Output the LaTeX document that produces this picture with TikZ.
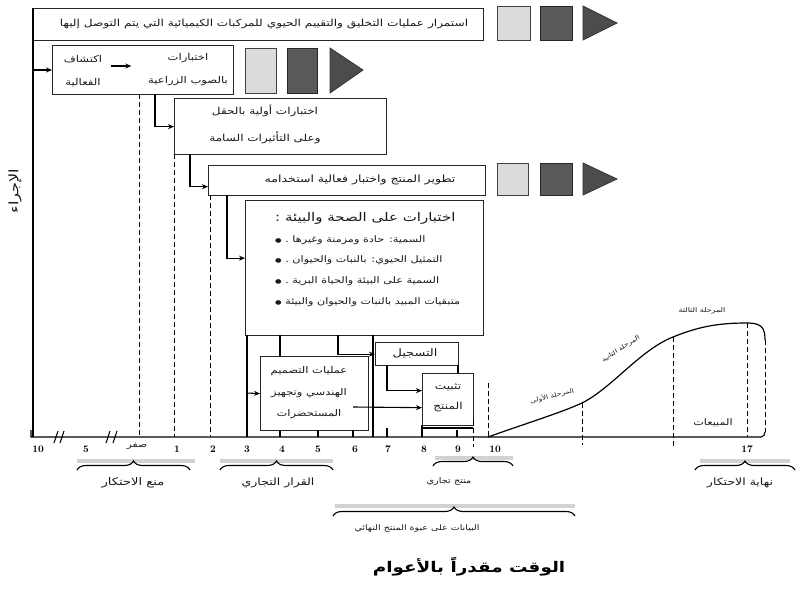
\documentclass[tikz,border=0pt]{standalone}
\usepackage{fontspec}
\usetikzlibrary{decorations.pathreplacing,arrows.meta}
\newfontfamily\arabicfont[Script=Arabic, FakeStretch=1.25]{DejaVu Sans}
\TeXXeTstate=1
\newcommand{\artx}[1]{\beginR #1\endR}
\newcommand{\fs}[2]{\fontsize{#1}{#2}\selectfont}
\newcommand{\bul}{{\fontsize{6}{6}\selectfont ●}\ }
\begin{document}
\begin{tikzpicture}[x=1pt,y=-1pt,
  box/.style={draw=black!85, line width=1.3pt, anchor=north west, inner sep=0pt},
  lt/.style={draw=black!75, line width=1pt, fill=gray!28, anchor=north west, inner sep=0pt},
  dk/.style={draw=black!85, line width=1pt, fill=black!65, anchor=north west, inner sep=0pt},
  tri/.style={fill=black!70, draw=black!80, line width=0.8pt},
  arr/.style={line width=1.1pt, -{Stealth[length=6pt,width=5pt]}},
  ln/.style={line width=1.1pt},
  dsh/.style={line width=1pt, dash pattern=on 5pt off 3pt},
  txt/.style={font=\arabicfont\fs{9.7}{12}, text=black!90, inner sep=0pt},
  lbl/.style={font=\arabicfont\fs{10}{12}, text=black!90, inner sep=0pt},
  sml/.style={font=\arabicfont\fs{6}{8}, text=black!90, inner sep=0pt},
  num/.style={font=\bfseries\fs{10}{12}, inner sep=0pt},
  brc/.style={decorate, decoration={brace, amplitude=9pt}, line width=1.1pt},
  band/.style={line width=4pt, gray!35},
]
\useasboundingbox[fill=white] (0,0) rectangle (796,590);

% ---------- boxes ----------
\node[box, minimum width=450pt, minimum height=32pt] (b1) at (33,8) {};
\node[box, minimum width=181pt, minimum height=49pt] (b2) at (52,45) {};
\node[box, minimum width=212pt, minimum height=56pt] (b3) at (174,98) {};
\node[box, minimum width=277pt, minimum height=30pt] (b4) at (208,165) {};
\node[box, minimum width=238pt, minimum height=135pt] (b5) at (245,200) {};
\node[box, minimum width=108pt, minimum height=74pt] (b6) at (260,356) {};
\node[box, minimum width=83pt, minimum height=23pt] (b7) at (375,342) {};
\node[box, minimum width=51pt, minimum height=52pt] (b8) at (422,373) {};

% ---------- squares and triangles ----------
\node[lt, minimum width=33pt, minimum height=34pt] (l1) at (497,6) {};
\node[dk, minimum width=32pt, minimum height=34pt] (d1) at (540,6) {};
\fill[tri] (583,6) -- (617,23) -- (583,40) -- cycle;
\node[lt, minimum width=31pt, minimum height=45pt] (l2) at (245,48) {};
\node[dk, minimum width=30pt, minimum height=45pt] (d2) at (287,48) {};
\fill[tri] (330,48) -- (363,70) -- (330,93) -- cycle;
\node[lt, minimum width=31pt, minimum height=32pt] (l4) at (497,163) {};
\node[dk, minimum width=32pt, minimum height=32pt] (d4) at (540,163) {};
\fill[tri] (583,163) -- (617,179) -- (583,195) -- cycle;

% ---------- box texts ----------
\node[txt] (t1) at (264,24) {\artx{استمرار عمليات التخليق والتقييم الحيوي للمركبات الكيميائية التي يتم التوصل إليها}};
\node[txt, align=center, font=\arabicfont\fs{9.3}{23}] (t2a) at (83,71) {\artx{اكتشاف}\\\artx{الفعالية}};
\node[txt, align=center, font=\arabicfont\fs{9.3}{23}] (t2b) at (188,70) {\artx{اختبارات}\\\artx{بالصوب الزراعية}};
\draw[arr] (t2a.east |- 0,66) ++(9,0) coordinate (k1) -- ++(20,0) coordinate (k2);
\node[txt, align=center, font=\arabicfont\fs{9.6}{27}] (t3) at (265,124) {\artx{اختبارات أولية بالحقل}\\\artx{وعلى التأثيرات السامة}};
\node[txt, font=\arabicfont\fs{10}{12}] (t4) at (360,180) {\artx{تطوير المنتج واختبار فعالية استخدامه}};
\node[txt, align=left, anchor=north west, font=\arabicfont\fs{9}{20.7}] (t5) at (275,212) {%
{\fs{12}{20.7}\artx{اختبارات على الصحة والبيئة :}}\\
\bul\artx{السمية: حادة ومزمنة وغيرها .}\\
\bul\artx{التمثيل الحيوي: بالنبات والحيوان .}\\
\bul\artx{السمية على البيئة والحياة البرية .}\\
\bul\artx{متبقيات المبيد بالنبات والحيوان والبيئة}};
\node[txt, align=center, font=\arabicfont\fs{9.2}{21.5}] (t6) at (309,393) {\artx{عمليات التصميم}\\\artx{الهندسي وتجهيز}\\\artx{المستحضرات}};
\node[txt, font=\arabicfont\fs{10.3}{12}] (t7) at (415,353) {\artx{التسجيل}};
\node[txt, align=center, font=\arabicfont\fs{9.7}{20}] (t8) at (448,398) {\artx{تثبيت}\\\artx{المنتج}};

% ---------- axes ----------
\draw[ln] (33,8) -- (33,437);
\draw[ln] (31,430) -- (31,437) -- (761,437) to[out=0,in=-90] (765,432);
\draw[ln] (54,443) -- (58,431);
\draw[ln] (60,443) -- (64,431);
\draw[ln] (106,443) -- (110,431);
\draw[ln] (113,443) -- (117,431);
\node[txt, rotate=90, font=\arabicfont\fs{13}{15}] (ylab) at (15,191) {\artx{الإجراء}};

% ---------- connectors ----------
\coordinate (a1) at (33,70);
\draw[arr] (a1) -- (a1 -| b2.west);
\coordinate (s2) at (155,94);
\draw[arr] (s2) |- (b3.west);
\coordinate (s3) at (190,154);
\draw[arr] (s3) |- ([yshift=-6pt]b4.west);
\coordinate (s4) at (227,195);
\draw[arr] (s4) |- ([yshift=10pt]b5.west);
\coordinate (s5) at (247,335);
\draw[ln] (s5) -- (247,437);
\coordinate (s5a) at (247,393);
\draw[arr] (s5a) -- (b6.west);
\coordinate (s6) at (338,335);
\draw[arr] (s6) |- (b7.west);
\coordinate (s7) at (387,365);
\draw[arr] (s7) |- ([yshift=9pt]b8.west);
\coordinate (s8) at (353,407);
\draw[arr] (s8) -- ([yshift=-8pt]b8.west);
\draw[ln] (280,335) -- (b6.north -| 280,0);
\draw[ln] (373,335) -- (373,437);
\draw[ln] (458,365) -- (458,373);
\draw[ln] (422,425) -- (422,437);
\draw[ln] (422,428) -- (473,428);
\foreach \xx in {280,318,353} \draw[ln] (\xx,430) -- (\xx,437);
\draw[ln] (387,428) -- (387,437);
\draw[ln] (457,430) -- (457,437);

% ---------- dashed year lines ----------
\draw[dsh] (139,94) -- (139,437);
\draw[dsh] (174,154) -- (174,437);
\draw[dsh] (210,195) -- (210,437);
\draw[dsh] (473,420) -- (473,447);
\draw[dsh] (488,383) -- (488,437);
\draw[dsh] (582,403) -- (582,445);
\draw[dsh] (673,337) -- (673,447);
\draw[dsh] (747,323) -- (747,437);
\draw[dsh] (765,340) -- (765,432);

% ---------- life cycle curve ----------
\draw[line width=1.2pt] (488,437) .. controls (530,422) and (560,413) .. (582,403)
  .. controls (612,388) and (640,350) .. (673,337)
  .. controls (700,326) and (720,323) .. (747,323)
  .. controls (762,323) and (765,328) .. (765,340);
\node[sml, rotate=14] (p1) at (552,396) {\artx{المرحلة الأولى}};
\node[sml, rotate=33] (p2) at (621,349) {\artx{المرحلة الثانية}};
\node[sml, font=\arabicfont\fs{6.4}{8}] (p3) at (702,311) {\artx{المرحلة الثالثة}};
\node[sml, font=\arabicfont\fs{9}{11}] (p4) at (713,423) {\artx{المبيعات}};

% ---------- axis numbers ----------
\node[num] (n10a) at (38,449) {10};
\node[num] (n5a) at (86,449) {5};
\node[lbl, font=\arabicfont\fs{8.5}{10}] (n0) at (137,446) {\artx{صفر}};
\node[num] (n1) at (177,449) {1};
\node[num] (n2) at (213,449) {2};
\node[num] (n3) at (247,449) {3};
\node[num] (n4) at (282,449) {4};
\node[num] (n5) at (318,449) {5};
\node[num] (n6) at (355,449) {6};
\node[num] (n7) at (388,449) {7};
\node[num] (n8) at (424,449) {8};
\node[num] (n9) at (458,449) {9};
\node[num] (n10) at (495,449) {10};
\node[num] (n17) at (747,449) {17};

% ---------- braces ----------
\draw[band] (77,461) -- (195,461);
\draw[band] (220,461) -- (333,461);
\draw[band] (435,458) -- (513,458);
\draw[band] (335,506) -- (575,506);
\draw[band] (700,461) -- (790,461);
\draw[brc] (77,470) -- (190,470);
\draw[brc] (220,470) -- (333,470);
\draw[brc] (433,466) -- (513,466);
\draw[brc] (333,516) -- (575,516);
\draw[brc] (695,470) -- (795,470);
\node[lbl, font=\arabicfont\fs{10.5}{12}] (c1) at (133,483) {\artx{منع الاحتكار}};
\node[lbl, font=\arabicfont\fs{10}{12}] (c2) at (278,483) {\artx{القرار التجاري}};
\node[lbl, font=\arabicfont\fs{7.8}{10}] (c3) at (449,481) {\artx{منتج تجاري}};
\node[lbl, font=\arabicfont\fs{7.6}{10}] (c4) at (417,529) {\artx{البيانات على عبوة المنتج النهائي}};
\node[lbl, font=\arabicfont\fs{10}{12}] (c5) at (740,483) {\artx{نهاية الاحتكار}};

% ---------- title ----------
\node[font=\arabicfont\bfseries\fs{14.7}{18}, inner sep=0pt] (title) at (469,567) {\artx{الوقت مقدراً بالأعوام}};
\end{tikzpicture}
\end{document}
